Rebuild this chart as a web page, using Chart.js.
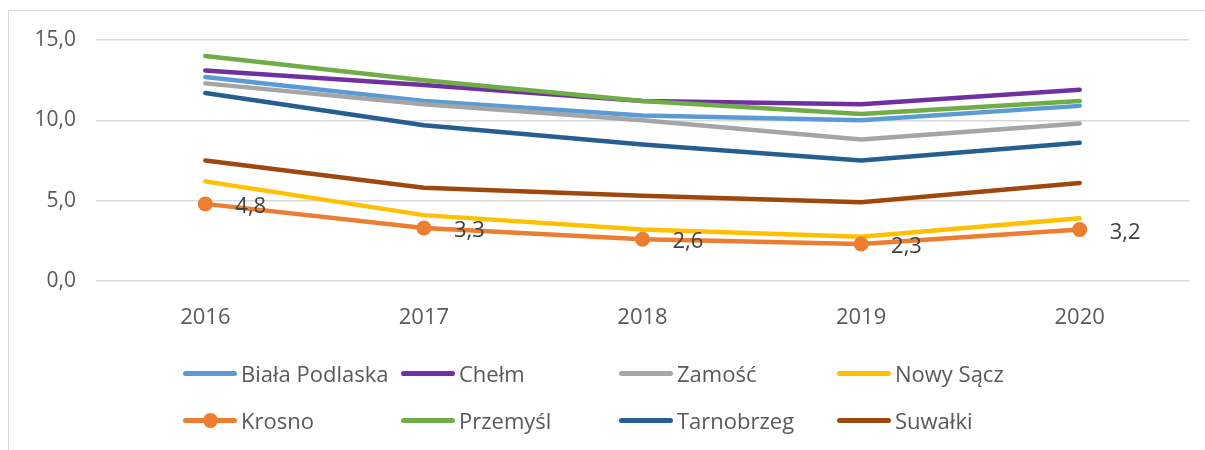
<!DOCTYPE html>
<html>
<head>
<meta charset="utf-8">
<script src="https://cdn.jsdelivr.net/npm/chart.js@4"></script>
<style>
  body { margin: 0; background: #fff; }
  #wrap { position: relative; width: 1205px; height: 450px; overflow: hidden; }
  #frame { position: absolute; left: 8px; top: 10px; width: 1210px; height: 460px; border: 1px solid #d9d9d9; box-sizing: border-box; }
  #myChart { position: absolute; left: 0; top: 0; }
  #legend { position: absolute; left: 183px; top: 357px; display: grid; grid-template-columns: 218px 218px 218px 218px; grid-auto-rows: 47px; font-family: "Open Sans", sans-serif; font-size: 22px; color: #595959; }
  .item { display: flex; align-items: center; height: 32px; white-space: nowrap; }
  .swatch { position: relative; width: 54px; height: 5px; border-radius: 3px; margin-right: 4px; flex: none; }
  .dot { position: absolute; left: 20px; top: -5px; width: 15px; height: 15px; border-radius: 50%; }
</style>
</head>
<body>
<div id="wrap">
  <div id="frame"></div>
  <canvas id="myChart" width="1205" height="450"></canvas>
  <div id="legend"></div>
</div>
<script>
const years = ['2016', '2017', '2018', '2019', '2020'];

const bialaPodlaska = [12.7, 11.2, 10.3, 10.0, 10.9];
const chelm         = [13.1, 12.2, 11.2, 11.0, 11.9];
const zamosc        = [12.3, 11.0, 10.0, 8.8, 9.8];
const nowySacz      = [6.2, 4.1, 3.2, 2.75, 3.9];
const krosno        = [4.8, 3.3, 2.6, 2.3, 3.2];
const przemysl      = [14.0, 12.5, 11.2, 10.4, 11.2];
const tarnobrzeg    = [11.7, 9.7, 8.5, 7.5, 8.6];
const suwalki       = [7.5, 5.8, 5.3, 4.9, 6.1];

const yTicks = [0, 5, 10, 15];

const series = [
    { label: 'Biała Podlaska', data: bialaPodlaska, color: '#5B9BD5' },
    { label: 'Chełm', data: chelm, color: '#7030A0' },
    { label: 'Zamość', data: zamosc, color: '#A5A5A5' },
    { label: 'Nowy Sącz', data: nowySacz, color: '#FFC000' },
    { label: 'Krosno', data: krosno, color: '#ED7D31', markers: true },
    { label: 'Przemyśl', data: przemysl, color: '#70AD47' },
    { label: 'Tarnobrzeg', data: tarnobrzeg, color: '#255E91' },
    { label: 'Suwałki', data: suwalki, color: '#9E480E' },
];

const fmt = v => Number(v).toFixed(1).replace('.', ',');

const datasets = series.map((s, i) => ({
    label: s.label,
    data: s.data,
    borderColor: s.color,
    backgroundColor: s.color,
    borderWidth: 4.5,
    borderCapStyle: 'round',
    borderJoinStyle: 'round',
    pointRadius: s.markers ? 7.5 : 0,
    pointBorderWidth: 0,
    tension: 0,
    order: series.length - i,
    showLabels: !!s.markers,
}));

// value labels to the right of the Krosno points
const valueLabels = {
    id: 'valueLabels',
    afterDatasetsDraw(chart) {
        const ctx = chart.ctx;
        chart.data.datasets.forEach((ds, i) => {
            if (!ds.showLabels) return;
            chart.getDatasetMeta(i).data.forEach((pt, j) => {
                ctx.save();
                ctx.font = '22px "Open Sans", sans-serif';
                ctx.fillStyle = '#404040';
                ctx.textAlign = 'left';
                ctx.textBaseline = 'middle';
                ctx.fillText(fmt(ds.data[j]), pt.x + 30, pt.y + 3);
                ctx.restore();
            });
        });
    }
};

var ctx = document.getElementById('myChart').getContext('2d');
var myChart = new Chart(ctx, {
    type: 'line',
    data: { labels: years, datasets: datasets },
    options: {
        responsive: false,
        animation: false,
        layout: {
            padding: { left: 0, right: 16, top: 40, bottom: 119 }
        },
        scales: {
            x: {
                offset: true,
                grid: { display: false, drawTicks: false },
                border: { display: false },
                ticks: {
                    color: '#595959',
                    padding: 24,
                    font: { family: 'Open Sans', size: 22 }
                },
                afterFit(scale) { scale.height = 50; }
            },
            y: {
                min: 0,
                max: 15,
                afterBuildTicks(scale) { scale.ticks = yTicks.map(v => ({ value: v })); },
                grid: { color: '#d9d9d9', lineWidth: 1.5, drawTicks: false },
                border: { display: false },
                ticks: {
                    color: '#595959',
                    padding: 20,
                    font: { family: 'Open Sans', size: 21 },
                    callback: v => fmt(v)
                },
                afterFit(scale) { scale.width = 96; }
            }
        },
        plugins: {
            legend: { display: false },
            tooltip: { enabled: false }
        }
    },
    plugins: [valueLabels]
});

// legend in the same grid as the reference
const legend = document.getElementById('legend');
series.forEach(s => {
    const item = document.createElement('div');
    item.className = 'item';
    const sw = document.createElement('span');
    sw.className = 'swatch';
    sw.style.background = s.color;
    if (s.markers) {
        const dot = document.createElement('span');
        dot.className = 'dot';
        dot.style.background = s.color;
        sw.appendChild(dot);
    }
    const txt = document.createElement('span');
    txt.textContent = s.label;
    item.appendChild(sw);
    item.appendChild(txt);
    legend.appendChild(item);
});
</script>
</body>
</html>
